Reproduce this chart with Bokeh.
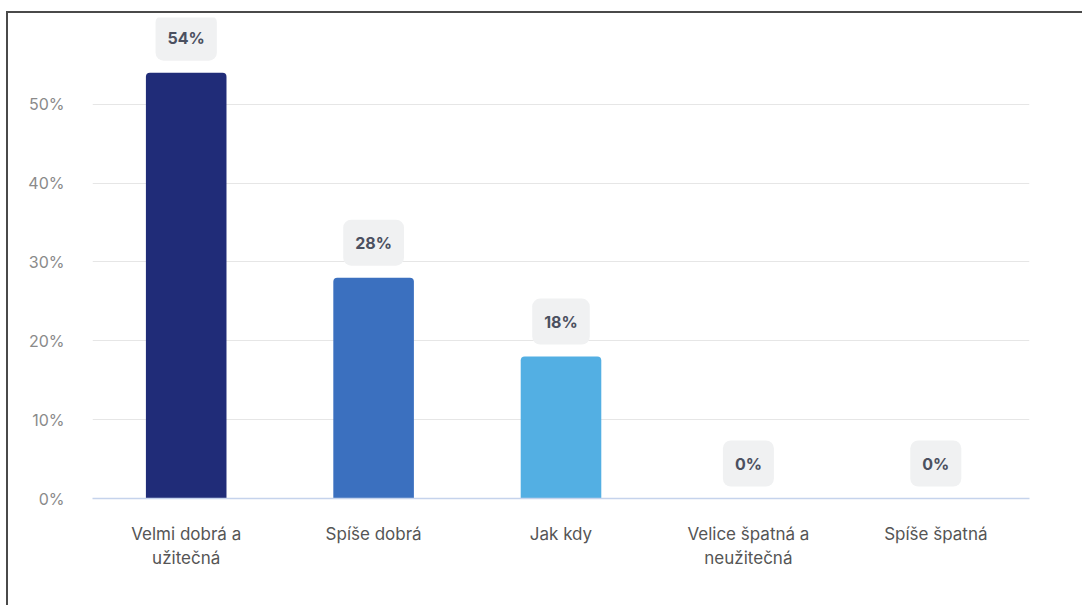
from bokeh.plotting import figure
from bokeh.layouts import column
from bokeh.models import ColumnDataSource, FixedTicker, CustomJSTickFormatter
from bokeh.core.properties import value
from bokeh.embed import file_html
from bokeh.resources import INLINE

categories = ["Velmi dobrá a\nužitečná", "Spíše dobrá", "Jak kdy", "Velice špatná a\nneužitečná", "Spíše špatná"]
values = [54, 28, 18, 0, 0]
labels = ["54%", "28%", "18%", "0%", "0%"]
colors = ["#202c78", "#3b70bf", "#53afe3", "#c9d6ee", "#c9d6ee"]
y_ticks = [0, 10, 20, 30, 40, 50]

src = ColumnDataSource(dict(cat=categories, val=values, lab=labels, col=colors))

p = figure(x_range=categories, y_range=(0, 61), width=1100, height=610,
           output_backend="svg", toolbar_location=None,
           min_border_left=84, min_border_right=55, min_border_top=4, min_border_bottom=109)
p.outline_line_color = None
p.background_fill_color = "white"
p.border_fill_color = "white"

p.vbar(x="cat", top="val", width=0.43, fill_color="col", line_color=None, source=src,
       border_radius=dict(top_left=4, top_right=4, bottom_left=0, bottom_right=0))

p.text(x="cat", y="val", text="lab", source=src, y_offset=-35,
       text_align="center", text_baseline="middle",
       text_font=value("Inter"), text_font_style="bold", text_font_size="16px",
       text_color="#4b5060",
       background_fill_color="#f0f1f2", border_radius=8,
       padding=dict(left=12, right=12, top=13, bottom=13))

p.xgrid.grid_line_color = None
p.ygrid.grid_line_color = "#e6e6e6"
p.ygrid.ticker = FixedTicker(ticks=y_ticks)

p.yaxis.ticker = FixedTicker(ticks=y_ticks)
p.yaxis.formatter = CustomJSTickFormatter(code="return tick + '%';")
p.yaxis.axis_line_color = None
p.yaxis.major_tick_line_color = None
p.yaxis.minor_tick_line_color = None
p.yaxis.major_label_text_font = "Inter"
p.yaxis.major_label_text_font_size = "16px"
p.yaxis.major_label_text_color = "#8a8a8a"
p.yaxis.major_label_standoff = 22

p.xaxis.axis_line_color = "#c5d3ec"
p.xaxis.axis_line_width = 1.5
p.xaxis.major_tick_line_color = None
p.xaxis.minor_tick_line_color = None
p.xaxis.major_label_text_font = "Inter"
p.xaxis.major_label_text_font_size = "17px"
p.xaxis.major_label_text_color = "#555555"
p.xaxis.major_label_text_line_height = 1.2
p.xaxis.major_label_standoff = 19
p.xaxis.major_label_text_align = "center"

layout = column(p, width=1076, height=594,
                styles={"overflow": "hidden", "width": "1076px", "height": "594px",
                        "box-shadow": "-2px -2px 0px 0px #4a4a4a",
                        "margin-left": "8px", "margin-top": "13px"})

open("out.html", "w").write(file_html(layout, INLINE))
